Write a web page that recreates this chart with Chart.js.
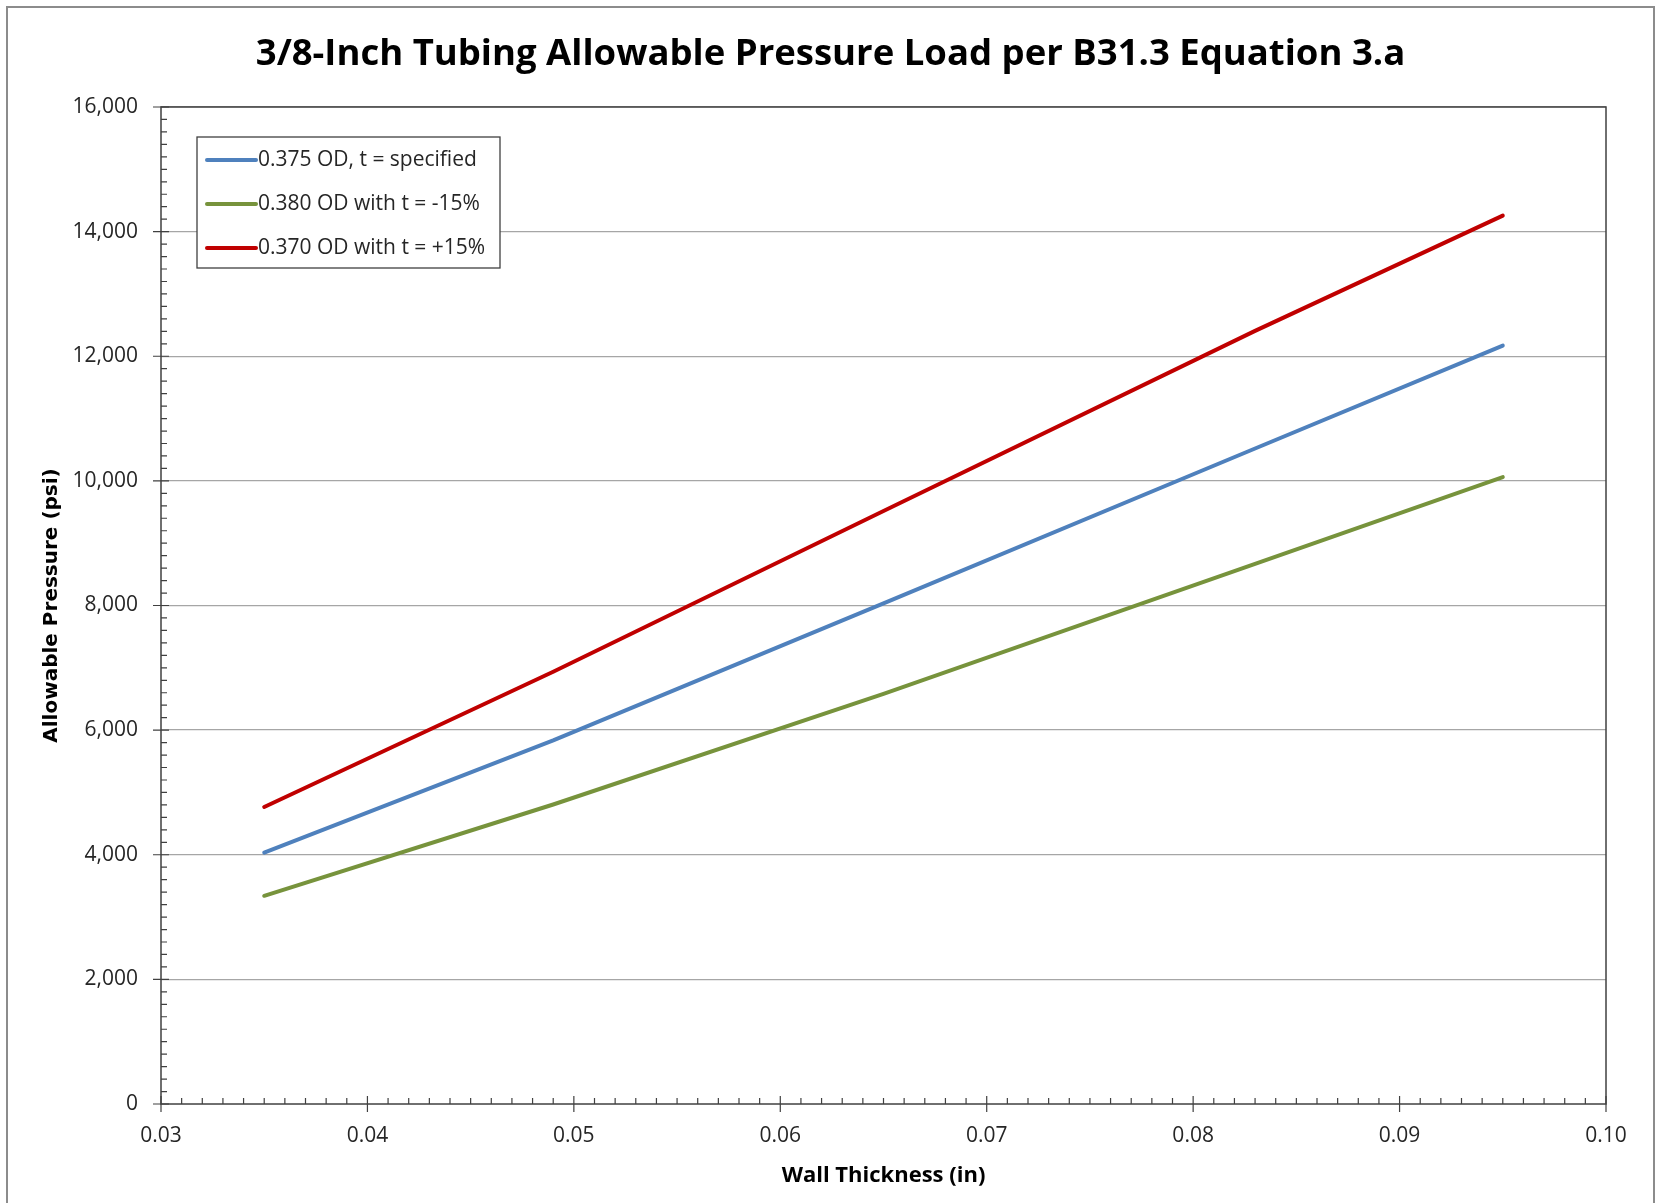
<!DOCTYPE html>
<html>
<head>
<meta charset="utf-8">
<script src="https://cdn.jsdelivr.net/npm/chart.js@4.4.1/dist/chart.umd.min.js"></script>
<style>
    body { margin: 0; background: #fff; }
    #wrap { width: 1661px; height: 1203px; }
</style>
</head>
<body>
<div id="wrap"><canvas id="pressureChart" width="1661" height="1203"></canvas></div>
<script>
// wall thickness (in)
const wallThickness = [0.035, 0.049, 0.065, 0.083, 0.095];
// allowable pressure (psi)
const nominalSeries = [4035, 5836, 8035, 10520, 12172];
const thinSeries = [3341, 4806, 6581, 8669, 10061];
const thickSeries = [4766, 6937, 9517, 12407, 14256];

const seriesLabels = ['0.375 OD, t = specified', '0.380 OD with t = -15%', '0.370 OD with t = +15%'];
const seriesColors = ['#4F81BD', '#77933C', '#C00000'];

const xTicks = [0.03, 0.04, 0.05, 0.06, 0.07, 0.08, 0.09, 0.10];
const yTicks = [0, 2000, 4000, 6000, 8000, 10000, 12000, 14000, 16000];

const chartTitle = '3/8-Inch Tubing Allowable Pressure Load per B31.3 Equation 3.a';
const labelFont = '"Open Sans", sans-serif';

function toPoints(values) {
    return wallThickness.map((t, i) => ({ x: t, y: values[i] }));
}

// white background + outer chart border
const backgroundFrame = {
    id: 'backgroundFrame',
    beforeDraw(chart) {
        const ctx = chart.ctx;
        ctx.save();
        ctx.fillStyle = '#fff';
        ctx.fillRect(0, 0, chart.width, chart.height);
        ctx.strokeStyle = '#8c8c8c';
        ctx.lineWidth = 2;
        ctx.strokeRect(7, 7, chart.width - 14, chart.height + 20);
        ctx.restore();
    }
};

// title centred on the whole picture (not on the padded layout)
const pageTitle = {
    id: 'pageTitle',
    afterDraw(chart) {
        const ctx = chart.ctx;
        ctx.save();
        ctx.font = 'bold 36.5px ' + labelFont;
        ctx.fillStyle = '#000';
        ctx.textAlign = 'center';
        ctx.textBaseline = 'middle';
        ctx.fillText(chartTitle, chart.width / 2, 55);
        ctx.restore();
    }
};

// plot border and the excel style tick marks
const axisTicks = {
    id: 'axisTicks',
    afterDatasetsDraw(chart) {
        const ctx = chart.ctx;
        const area = chart.chartArea;
        const xs = chart.scales.x;
        const ys = chart.scales.y;
        ctx.save();
        ctx.strokeStyle = '#404040';
        ctx.lineWidth = 1.5;
        ctx.strokeRect(area.left, area.top, area.right - area.left, area.bottom - area.top);

        ctx.lineWidth = 1.2;
        ctx.beginPath();
        // minor ticks every 200 psi / 0.001 in, inside the plot
        for (let i = 0; i <= 80; i++) {
            const py = ys.getPixelForValue(i * 200);
            ctx.moveTo(area.left, py);
            ctx.lineTo(area.left + 6, py);
        }
        for (let i = 30; i <= 100; i++) {
            const px = xs.getPixelForValue(i / 1000);
            ctx.moveTo(px, area.bottom);
            ctx.lineTo(px, area.bottom - 6);
        }
        // major ticks cross the axis
        yTicks.forEach(v => {
            const py = ys.getPixelForValue(v);
            ctx.moveTo(area.left - 8, py);
            ctx.lineTo(area.left + 8, py);
        });
        xTicks.forEach(v => {
            const px = xs.getPixelForValue(v);
            ctx.moveTo(px, area.bottom + 8);
            ctx.lineTo(px, area.bottom - 8);
        });
        ctx.stroke();
        ctx.restore();
    }
};

// boxed legend in the upper left of the plot
const boxLegend = {
    id: 'boxLegend',
    afterDraw(chart) {
        const ctx = chart.ctx;
        const left = 197, top = 137, w = 303, h = 131;
        ctx.save();
        ctx.fillStyle = '#fff';
        ctx.fillRect(left, top, w, h);
        ctx.strokeStyle = '#404040';
        ctx.lineWidth = 1.3;
        ctx.strokeRect(left, top, w, h);
        ctx.font = '21px ' + labelFont;
        ctx.textBaseline = 'middle';
        chart.data.datasets.forEach((ds, i) => {
            const cy = top + 23 + i * 44;
            ctx.strokeStyle = ds.borderColor;
            ctx.lineWidth = 4;
            ctx.lineCap = 'round';
            ctx.beginPath();
            ctx.moveTo(left + 10, cy);
            ctx.lineTo(left + 59, cy);
            ctx.stroke();
            ctx.fillStyle = '#262626';
            ctx.fillText(ds.label, left + 61, cy);
        });
        ctx.restore();
    }
};

const ctx = document.getElementById('pressureChart').getContext('2d');
const pressureChart = new Chart(ctx, {
    type: 'line',
    data: {
        datasets: [
            { label: seriesLabels[0], data: toPoints(nominalSeries), borderColor: seriesColors[0] },
            { label: seriesLabels[1], data: toPoints(thinSeries), borderColor: seriesColors[1] },
            { label: seriesLabels[2], data: toPoints(thickSeries), borderColor: seriesColors[2] }
        ]
    },
    options: {
        responsive: false,
        animation: false,
        devicePixelRatio: 1,
        layout: { padding: { left: 0, right: 55, top: 107, bottom: 0 } },
        elements: {
            line: { borderWidth: 4, tension: 0, fill: false, borderCapStyle: 'round', borderJoinStyle: 'round' },
            point: { radius: 0, hoverRadius: 0 }
        },
        scales: {
            x: {
                type: 'linear',
                min: 0.03,
                max: 0.10,
                afterBuildTicks: s => { s.ticks = xTicks.map(v => ({ value: v })); },
                afterFit: s => { s.height = 99; },
                ticks: {
                    callback: v => v.toFixed(2),
                    font: { family: labelFont, size: 21 },
                    color: '#262626',
                    padding: 19,
                    maxRotation: 0
                },
                grid: { drawOnChartArea: false, drawTicks: false },
                border: { display: false },
                title: {
                    display: true,
                    text: 'Wall Thickness (in)',
                    font: { family: labelFont, size: 22, weight: 'bold' },
                    color: '#000',
                    padding: { top: 0, bottom: 14 }
                }
            },
            y: {
                min: 0,
                max: 16000,
                afterBuildTicks: s => { s.ticks = yTicks.map(v => ({ value: v })); },
                afterFit: s => { s.width = 161; },
                ticks: {
                    callback: v => v.toLocaleString('en-US'),
                    font: { family: labelFont, size: 21 },
                    color: '#262626',
                    padding: 23
                },
                grid: {
                    drawTicks: false,
                    color: c => (c.tick && c.tick.value === 0) ? 'rgba(0,0,0,0)' : '#a6a6a6',
                    lineWidth: 1.3
                },
                border: { display: false },
                title: {
                    display: true,
                    text: 'Allowable Pressure (psi)',
                    font: { family: '"DejaVu Sans", sans-serif', size: 20, weight: 'bold' },
                    color: '#000',
                    padding: { top: 40, bottom: 0 }
                }
            }
        },
        plugins: {
            legend: { display: false },
            tooltip: { enabled: false },
            title: { display: false }
        }
    },
    plugins: [backgroundFrame, pageTitle, axisTicks, boxLegend]
});
</script>
</body>
</html>
